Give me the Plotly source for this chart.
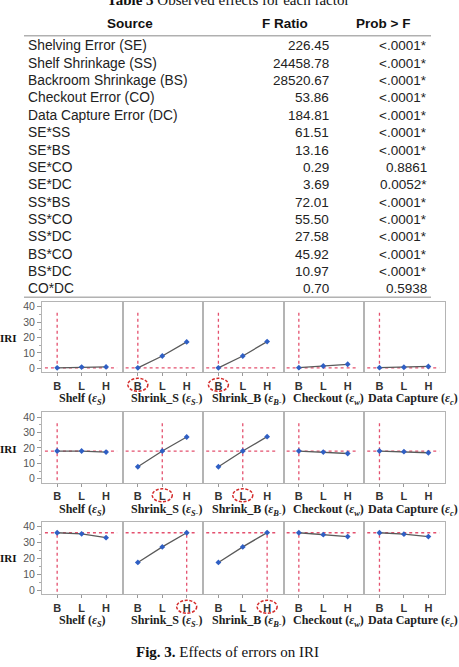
import plotly.graph_objects as go
from plotly.subplots import make_subplots

W, H = 459, 667

# ---------------- Table data ----------------
table_title = "<b>Table 3</b> Observed effects for each factor"
headers = ["Source", "F Ratio", "Prob > F"]
sources = ["Shelving Error (SE)", "Shelf Shrinkage (SS)", "Backroom Shrinkage (BS)",
           "Checkout Error (CO)", "Data Capture Error (DC)", "SE*SS", "SE*BS", "SE*CO",
           "SE*DC", "SS*BS", "SS*CO", "SS*DC", "BS*CO", "BS*DC", "CO*DC"]
f_ratios = ["226.45", "24458.78", "28520.67", "53.86", "184.81", "61.51", "13.16", "0.29",
            "3.69", "72.01", "55.50", "27.58", "45.92", "10.97", "0.70"]
probs = ["<.0001*", "<.0001*", "<.0001*", "<.0001*", "<.0001*", "<.0001*", "<.0001*",
         "0.8861", "0.0052*", "<.0001*", "<.0001*", "<.0001*", "<.0001*", "<.0001*", "0.5938"]

# ---------------- Effect plot data ----------------
levels = ["B", "L", "H"]
factors = ["Shelf (<i>ε<sub>S</sub></i>)", "Shrink_S (<i>ε<sub>S-</sub></i>)",
           "Shrink_B (<i>ε<sub>B-</sub></i>)", "Checkout (<i>ε<sub>w</sub></i>)",
           "Data Capture (<i>ε<sub>c</sub></i>)"]
y_ticks = [0, 10, 20, 30, 40]

# IRI per factor level, one list per factor (Shelf, Shrink_S, Shrink_B, Checkout, Data Capture)
iri_row1 = [[0.3, 0.8, 0.9], [0.3, 8.0, 17.1], [0.3, 8.0, 17.3], [0.4, 1.5, 2.6], [0.4, 0.7, 1.2]]
iri_row2 = [[18.0, 18.0, 17.3], [7.8, 18.0, 27.1], [7.8, 18.0, 27.3], [18.0, 17.3, 16.4], [18.0, 17.6, 16.9]]
iri_row3 = [[36.2, 35.5, 33.1], [17.5, 27.3, 36.2], [17.5, 27.3, 36.3], [36.2, 35.0, 33.8], [36.2, 35.3, 33.8]]
rows_iri = [iri_row1, iri_row2, iri_row3]
# current setting (reference lines) per row: level of each factor
sel_row1 = ["B", "B", "B", "B", "B"]
sel_row2 = ["B", "L", "L", "B", "B"]
sel_row3 = ["B", "H", "H", "B", "B"]
rows_sel = [sel_row1, sel_row2, sel_row3]
ref_iri = [0.3, 18.0, 36.2]
circled = [1, 2]  # factor indices whose selected level is circled

caption = "<b>Fig. 3.</b> Effects of errors on IRI"

# ---------------- layout geometry (pixels) ----------------
col_edges = [42, 122.7, 203.3, 283.7, 364.3, 445]
row_tops = [302, 413, 523]
row_bots = [373, 484, 596]
title_x = [82, 166, 249, 328, 413]
title_dy = 27
tick_dy = 12.5
XR = [-0.62, 2.68]


def PX(x):
    return x / W


def PY(y):
    return 1 - y / H


RED = "#e4506e"
fig = make_subplots(rows=3, cols=5)

for r in range(3):
    for c in range(5):
        vals = rows_iri[r][c]
        k = levels.index(rows_sel[r][c])
        fig.add_trace(go.Scatter(x=[k, k], y=[-1, 37.5], mode="lines",
                                 line=dict(color=RED, width=1.3, dash="dot"),
                                 hoverinfo="skip", showlegend=False), row=r + 1, col=c + 1)
        fig.add_trace(go.Scatter(x=[-0.5, 2.45], y=[ref_iri[r]] * 2, mode="lines",
                                 line=dict(color=RED, width=1.3, dash="dot"),
                                 hoverinfo="skip", showlegend=False), row=r + 1, col=c + 1)
        fig.add_trace(go.Scatter(x=list(range(len(levels))), y=vals, mode="lines+markers",
                                 line=dict(color="#5a5a5a", width=1.3),
                                 marker=dict(color="#2f5fc4", size=4.5, symbol="diamond"),
                                 showlegend=False), row=r + 1, col=c + 1)

layout = {}
annotations = []
shapes = []
for r in range(3):
    for c in range(5):
        n = r * 5 + c + 1
        xa = "xaxis" if n == 1 else f"xaxis{n}"
        ya = "yaxis" if n == 1 else f"yaxis{n}"
        layout[xa] = dict(
            domain=[PX(col_edges[c]), PX(col_edges[c + 1])],
            range=XR, tickvals=[0, 1, 2], ticktext=levels,
            ticks="outside", ticklen=3, tickcolor="#999",
            tickfont=dict(family="Liberation Sans", size=11, color="#333", weight="bold"),
            showline=True, mirror=True, linecolor="#b4b4b4", linewidth=1,
            showgrid=False, zeroline=False, fixedrange=True)
        ydict = dict(
            domain=[PY(row_bots[r]), PY(row_tops[r])],
            range=[-2.6, 43.2], showline=True, mirror=True, linecolor="#b4b4b4", linewidth=1,
            showgrid=False, zeroline=False, fixedrange=True)
        if c == 0:
            ydict.update(tickvals=y_ticks, ticks="outside", ticklen=4, tickcolor="#999",
                         tickfont=dict(family="Liberation Sans", size=10.5, color="#555"),
                         minor=dict(dtick=5, tick0=0, ticks="outside", ticklen=2, tickcolor="#aaa"))
        else:
            ydict.update(showticklabels=False, ticks="")
        layout[ya] = ydict

        # x-axis title
        annotations.append(dict(
            text=factors[c], x=PX(title_x[c]), y=PY(row_bots[r] + title_dy),
            xref="paper", yref="paper", xanchor="center", yanchor="middle", showarrow=False,
            font=dict(family="Liberation Serif", size=12, color="#222", weight="bold")))

        if c in circled:
            k = levels.index(rows_sel[r][c])
            pw = col_edges[c + 1] - col_edges[c]
            cx = col_edges[c] + (k - XR[0]) / (XR[1] - XR[0]) * pw
            cy = row_bots[r] + tick_dy
            shapes.append(dict(type="circle", xref="paper", yref="paper", layer="above",
                               x0=PX(cx - 10), x1=PX(cx + 10), y0=PY(cy + 6.5), y1=PY(cy - 6.5),
                               line=dict(color="#d42a2a", width=1.5, dash="3px,1.6px")))

    annotations.append(dict(
        text="<b>IRI</b>", x=PX(8), y=PY(row_tops[r] + 37), xref="paper", yref="paper",
        xanchor="center", yanchor="middle", showarrow=False,
        font=dict(family="Liberation Serif", size=11, color="#111")))

# ---------------- table as text ----------------
TF = "Liberation Sans"
annotations.append(dict(text=table_title, x=PX(228), y=PY(9), xref="paper", yref="paper",
                        xanchor="center", yanchor="bottom", showarrow=False,
                        font=dict(family="Liberation Serif", size=15, color="#111")))
head_x = [130, 285, 383]
for hx, ht in zip(head_x, headers):
    annotations.append(dict(text=f"<b>{ht}</b>", x=PX(hx), y=PY(22.5), xref="paper", yref="paper",
                            xanchor="center", yanchor="middle", showarrow=False,
                            font=dict(family=TF, size=13.5, color="#111")))
for i, (s, fr, p) in enumerate(zip(sources, f_ratios, probs)):
    yy = PY(45 + 17.45 * i)
    annotations.append(dict(text=s, x=PX(26), y=yy, xref="paper", yref="paper",
                            xanchor="left", yanchor="middle", showarrow=False,
                            font=dict(family=TF, size=13.8, color="#222")))
    annotations.append(dict(text=fr, x=PX(331), y=yy, xref="paper", yref="paper",
                            xanchor="right", yanchor="middle", showarrow=False,
                            font=dict(family=TF, size=13.5, color="#222")))
    annotations.append(dict(text=p, x=PX(428.5), y=yy, xref="paper", yref="paper",
                            xanchor="right", yanchor="middle", showarrow=False,
                            font=dict(family=TF, size=13.5, color="#222")))

for ly in [35, 297.5]:
    shapes.append(dict(type="line", xref="paper", yref="paper", x0=PX(24), x1=PX(431),
                       y0=PY(ly), y1=PY(ly), line=dict(color="#8a8a8a", width=1)))

annotations.append(dict(text=caption, x=PX(227), y=PY(654), xref="paper", yref="paper",
                        xanchor="center", yanchor="middle", showarrow=False,
                        font=dict(family="Liberation Serif", size=15, color="#111")))

fig.update_layout(**layout)
fig.update_layout(width=W, height=H, margin=dict(l=0, r=0, t=0, b=0),
                  paper_bgcolor="white", plot_bgcolor="white",
                  annotations=annotations, shapes=shapes, showlegend=False)

fig.write_html("out.html", config={"displayModeBar": False})
